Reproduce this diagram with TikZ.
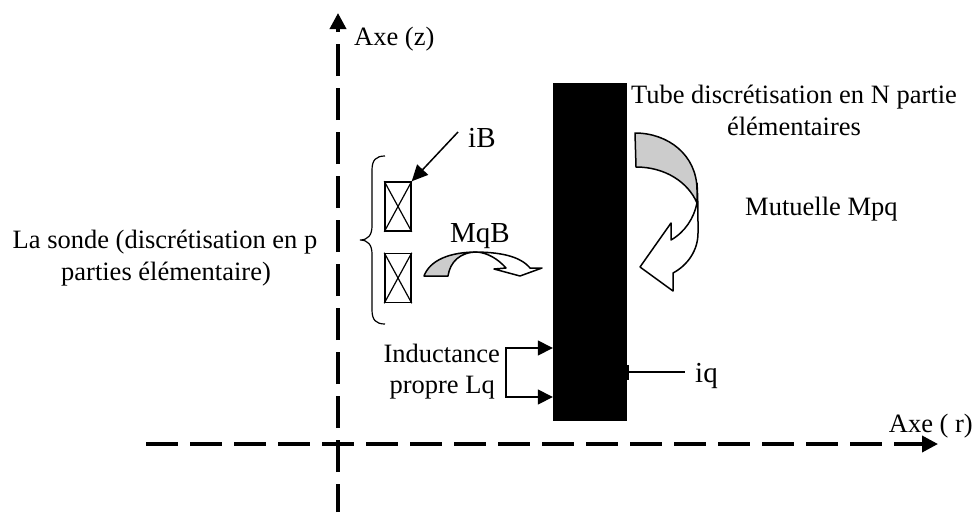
\documentclass[tikz,border=0pt]{standalone}
\usepackage{fontspec}
\setmainfont{Liberation Serif}
\usetikzlibrary{positioning,arrows.meta,calc}
\tikzset{
  axisline/.style={-{Triangle[length=16pt,width=16pt]}, line width=3.6pt, dash pattern=on 32pt off 12pt, draw=black},
  coil/.style={rectangle, draw=black, line width=1.5pt, minimum width=26pt, minimum height=49pt, inner sep=0pt},
  tube/.style={rectangle, fill=black, minimum width=74pt, minimum height=338pt, inner sep=0pt},
  lbl/.style={font=\fontsize{26.5pt}{32pt}\selectfont, align=center, inner sep=0pt},
  biglbl/.style={font=\fontsize{29pt}{30pt}\selectfont, inner sep=0pt},
  flow/.style={-{Triangle[length=15pt,width=15pt]}, line width=1.5pt, draw=black},
  twist/.style={line width=1.5pt, draw=black, line join=round},
  cross/.style={line width=1.2pt, draw=black}
}
\begin{document}
\begin{tikzpicture}[x=1pt,y=-1pt]
\useasboundingbox (0,0) rectangle (976,512);
% axes
\coordinate (zs) at (338,512); \coordinate (ze) at (338,13);
\coordinate (rs) at (146,444); \coordinate (re) at (938,444);
\draw[axisline, dash phase=4pt] (zs)--(ze);
\draw[axisline] (rs)--(re);
\node[lbl, anchor=base west] (zl) at (354,45) {Axe (z)};
\node[lbl, anchor=base east] (rl) at (973,432) {Axe ( r)};
% tube
\node[tube] (tb) at (590,252) {};
\node[lbl, anchor=base] (tl) at (794,103) {Tube discrétisation en N partie};
\node[lbl, anchor=base] (tm) at (794,135) {élémentaires};
\node[lbl, anchor=base west] (mp) at (745,215) {Mutuelle Mpq};
% coils
\node[coil] (c1) at (398,206.5) {};
\node[coil, below=21pt of c1] (c2) {};
\foreach \c in {c1,c2}{
  \draw[cross] (\c.north west)--(\c.south east);
  \draw[cross] (\c.north east)--(\c.south west);
}
\draw[line width=1.2pt] (385,156) .. controls (376,156) and (372,160) .. (372,170) -- (372,226)
  .. controls (372,235) and (368,240) .. (360,240) .. controls (368,240) and (372,245) .. (372,254)
  -- (372,310) .. controls (372,320) and (376,324) .. (385,324);
\node[lbl, anchor=base] (sl) at (165,248) {La sonde (discrétisation en p};
\node[lbl, anchor=base] (sm) at (166,280) {parties élémentaire)};
% iB
\node[biglbl, anchor=base west] (ib) at (468,147) {iB};
\coordinate (is) at (458,132);
\draw[-{Triangle[length=16pt,width=15pt]}, line width=1.5pt] (is)--(c1.north east);
\node[biglbl, anchor=base] (mq) at (480,242) {MqB};
% MqB arrow
\draw[twist] (473,252) .. controls (500,252) and (520,256) .. (530,268) -- (542,268) -- (520,276)
  -- (494,269) -- (506,268) .. controls (498,259) and (488,253) .. (477,252);
\draw[twist, fill=black!20] (424,276) .. controls (430,260) and (450,252) .. (477,252)
  .. controls (460,252) and (450,262) .. (448,276) -- cycle;
% Mpq arrow
\draw[twist] (697,183) .. controls (698,200) and (698,215) .. (698,233)
  .. controls (698,250) and (688,265) .. (673,273) -- (673,291) -- (640,267) -- (671,223) -- (671,240)
  .. controls (685,232) and (694,218) .. (697,203);
\draw[twist, fill=black!20] (635,133) .. controls (668,133) and (697,155) .. (697,190) -- (697,203)
  .. controls (688,182) and (665,167) .. (636,167) -- cycle;
% inductance
\node[lbl, anchor=base east] (il) at (500,362) {Inductance};
\node[lbl, anchor=base east] (pl) at (495,393) {propre Lq};
\coordinate (lq) at (506,372);
\draw[flow] (lq) |- ($(tb.west)+(0,96)$);
\draw[flow] (lq) |- ($(tb.west)+(0,145)$);
% iq
\node[biglbl, anchor=base west] (iq) at (695,382) {iq};
\coordinate (iqe) at (685,372);
\draw[line width=1.5pt] (tb.east |- iqe)--(iqe);
\draw[line width=2pt] (628,365)--(628,380);
\end{tikzpicture}
\end{document}
